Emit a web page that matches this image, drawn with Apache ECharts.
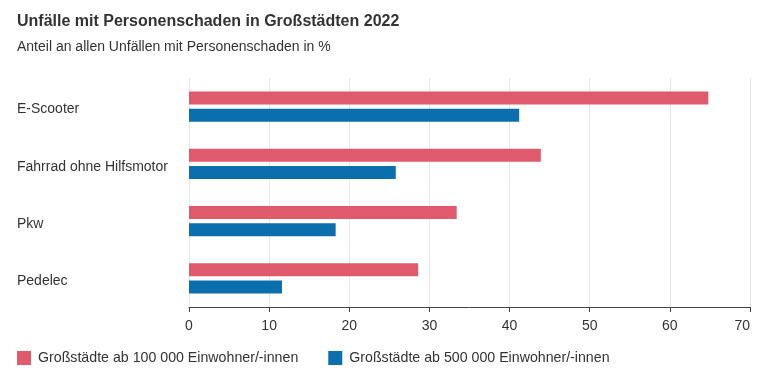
<!DOCTYPE html>
<html><head><meta charset="utf-8">
<script src="https://cdn.jsdelivr.net/npm/echarts@6/dist/echarts.min.js"></script>
<style>html,body{margin:0;padding:0;background:#fff}#c{width:770px;height:381px}</style>
</head><body><div id="c"></div>
<script>
const categories = ['E-Scooter', 'Fahrrad ohne Hilfsmotor', 'Pkw', 'Pedelec'];
const series100k = [64.8, 43.9, 33.4, 28.6];
const series500k = [41.2, 25.8, 18.3, 11.6];
const seriesNames = ['Großstädte ab 100 000 Einwohner/-innen', 'Großstädte ab 500 000 Einwohner/-innen'];
const xTicks = [0, 10, 20, 30, 40, 50, 60, 70];

const font = '"Liberation Sans", Arial, sans-serif';
const chart = echarts.init(document.getElementById('c'), null, {renderer: 'canvas'});
chart.setOption({
  animation: false,
  textStyle: {fontFamily: font},
  title: {
    text: 'Unfälle mit Personenschaden in Großstädten 2022',
    subtext: 'Anteil an allen Unfällen mit Personenschaden in %',
    left: 12, top: 9,
    textStyle: {fontFamily: font, fontSize: 16, fontWeight: 'bold', color: '#333'},
    subtextStyle: {fontFamily: font, fontSize: 14, color: '#333'},
    itemGap: 10
  },
  legend: {
    left: 12, top: 346,
    icon: 'rect', itemWidth: 14, itemHeight: 14, itemGap: 30,
    textStyle: {fontFamily: font, fontSize: 14.2, color: '#333', padding: [0, 0, 0, 2]},
    data: seriesNames
  },
  grid: {left: 189, right: 20, top: 78, bottom: 74},
  xAxis: {
    type: 'value', min: xTicks[0], max: xTicks[xTicks.length - 1], interval: 10,
    axisLine: {show: true, lineStyle: {color: '#444', width: 1}},
    axisTick: {show: true, length: 5, lineStyle: {color: '#444'}},
    axisLabel: {fontFamily: font, fontSize: 14, color: '#333', margin: 12, alignMaxLabel: 'right'},
    splitLine: {show: true, lineStyle: {color: '#e8e8e8'}}
  },
  yAxis: {
    type: 'category', data: categories, inverse: true,
    axisLine: {show: false}, axisTick: {show: false},
    axisLabel: {
      align: 'left', margin: 172,
      formatter: v => '{a|' + v + '}',
      rich: {a: {fontFamily: font, fontSize: 14, color: '#333', padding: [6, 0, 0, 0]}}
    }
  },
  series: [
    {name: seriesNames[0], type: 'bar', data: series100k, barWidth: 13, barGap: '31%',
     itemStyle: {color: '#df5a6a'}},
    {name: seriesNames[1], type: 'bar', data: series500k, barWidth: 13,
     itemStyle: {color: '#0b6fae'}}
  ]
});
</script></body></html>
